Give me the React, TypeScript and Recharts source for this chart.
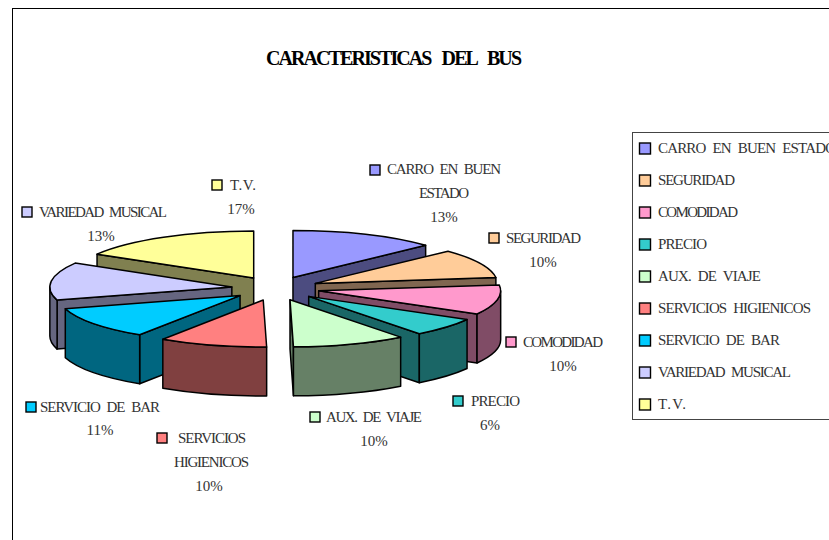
import React from 'react';
import { PieChart, Pie, Legend } from 'recharts';

// slices in clockwise order from 12 o'clock
const NAMES = [
  'CARRO EN BUEN ESTADO',
  'SEGURIDAD',
  'COMODIDAD',
  'PRECIO',
  'AUX. DE VIAJE',
  'SERVICIOS HIGIENICOS',
  'SERVICIO DE BAR',
  'VARIEDAD MUSICAL',
  'T.V.',
];
const VALUES = [13, 10, 10.2, 6.4, 10.1, 9.6, 11.2, 13, 16.5];
const COLORS = ['#9999FF', '#FFCC99', '#FF99CC', '#33CCCC', '#CCFFCC', '#FF8080', '#00CCFF', '#CCCCFF', '#FFFF99'];
const WALLS = ['#4C4C80', '#806650', '#804C66', '#1A6666', '#668066', '#804040', '#006680', '#666680', '#808050'];
const LEGEND_WIDTHS = [178, 77, 80, 49, 103, 153, 122, 133, 28];

// label placement: square x/y, text lines [text, x, y, width], percent centre x/y
const LABEL_POS: Record<string, any> = {
  'CARRO EN BUEN ESTADO': { sq: [370, 170], lines: [['CARRO EN BUEN', 387, 169, 114], ['ESTADO', 419, 193, 50]], pct: [444, 217] },
  SEGURIDAD: { sq: [489, 238], lines: [['SEGURIDAD', 506, 238, 75]], pct: [543, 262] },
  COMODIDAD: { sq: [506, 342], lines: [['COMODIDAD', 523, 342, 80]], pct: [563, 366] },
  PRECIO: { sq: [453, 401], lines: [['PRECIO', 471, 401, 49]], pct: [490, 425] },
  'AUX. DE VIAJE': { sq: [310, 417], lines: [['AUX. DE VIAJE', 326, 417, 96]], pct: [374, 441] },
  'SERVICIOS HIGIENICOS': { sq: [157, 438], lines: [['SERVICIOS', 178, 438, 68], ['HIGIENICOS', 174, 462, 75]], pct: [209, 486] },
  'SERVICIO DE BAR': { sq: [26, 407], lines: [['SERVICIO DE BAR', 40, 407, 120]], pct: [100, 430] },
  'VARIEDAD MUSICAL': { sq: [22, 212], lines: [['VARIEDAD MUSICAL', 39, 212, 128]], pct: [101, 236] },
  'T.V.': { sq: [212, 185], lines: [['T.V.', 230, 185, 26]], pct: [241, 209] },
};

const data = NAMES.map((name, i) => ({ name, value: VALUES[i] }));
const total = VALUES.reduce((a, b) => a + b, 0);
// right half draws back to front clockwise, left half back to front counter-clockwise
const rightData = data.slice(0, 5);
const leftData = data.slice(5).reverse();
const sweep = (rows: typeof data) => (rows.reduce((a, r) => a + r.value, 0) / total) * 360;

const FONT = '"Liberation Serif", serif';
const TILT = 47 / 182;
const DEPTH = 49;
const EXPLODE_X = 44;
const EXPLODE_Y = 12;

const rad = (d: number) => (d * Math.PI) / 180;

const Slice = (props: any) => {
  const { cx, cy, outerRadius, startAngle, endAngle, name } = props;
  let a = 90 - Math.max(startAngle, endAngle);
  let b = 90 - Math.min(startAngle, endAngle);
  if (a < 0) {
    a += 360;
    b += 360;
  }
  const idx = NAMES.indexOf(name);
  const rx = outerRadius;
  const ry = outerRadius * TILT;
  const mid = (a + b) / 2;
  const ox = cx + EXPLODE_X * Math.sin(rad(mid));
  const oy = cy - EXPLODE_Y * Math.cos(rad(mid));
  const px = (t: number) => ox + rx * Math.sin(rad(t));
  const py = (t: number) => oy - ry * Math.cos(rad(t));
  const style = { stroke: '#000', strokeWidth: 1.5, strokeLinejoin: 'round' as const };

  const cutWall = (t: number) => (
    <path
      d={`M${ox},${oy} L${px(t)},${py(t)} L${px(t)},${py(t) + DEPTH} L${ox},${oy + DEPTH} Z`}
      fill={WALLS[idx]}
      {...style}
    />
  );
  const t1 = Math.max(a, 90);
  const t2 = Math.min(b, 270);

  return (
    <g>
      {Math.sin(rad(a)) < 0 && cutWall(a)}
      {Math.sin(rad(b)) > 0 && cutWall(b)}
      {t1 < t2 && (
        <path
          d={`M${px(t1)},${py(t1)} A${rx},${ry} 0 0 1 ${px(t2)},${py(t2)} L${px(t2)},${py(t2) + DEPTH} A${rx},${ry} 0 0 0 ${px(t1)},${py(t1) + DEPTH} Z`}
          fill={WALLS[idx]}
          {...style}
        />
      )}
      <path
        d={`M${ox},${oy} L${px(a)},${py(a)} A${rx},${ry} 0 0 1 ${px(b)},${py(b)} Z`}
        fill={COLORS[idx]}
        {...style}
      />
    </g>
  );
};

const SliceLabel = (props: any) => {
  const { name, value } = props;
  const pos = LABEL_POS[name];
  const idx = NAMES.indexOf(name);
  return (
    <g fontFamily={FONT} fontSize={15} fill="#333">
      <rect x={pos.sq[0]} y={pos.sq[1] - 5} width={10} height={10} fill={COLORS[idx]} stroke="#000" strokeWidth={1.4} />
      {pos.lines.map((l: any) => (
        <text key={l[0]} x={l[1]} y={l[2] + 5} textLength={l[3]} lengthAdjust="spacing" wordSpacing={4} stroke="none">
          {l[0]}
        </text>
      ))}
      <text x={pos.pct[0]} y={pos.pct[1] + 5} textAnchor="middle" stroke="none">
        {Math.round((value / total) * 100)}%
      </text>
    </g>
  );
};

const LegendBox = () => (
  <svg width={205} height={290} style={{ display: 'block' }}>
    <rect x={0.5} y={0.5} width={260} height={287} fill="#fff" stroke="#444" strokeWidth={1} />
    {NAMES.map((name, i) => (
      <g key={name}>
        <rect x={7.5} y={11 + i * 32} width={11} height={11} fill={COLORS[i]} stroke="#000" strokeWidth={1.4} />
        <text
          x={26}
          y={21 + i * 32}
          fontFamily={FONT}
          fontSize={15}
          fill="#333"
          textLength={LEGEND_WIDTHS[i]}
          lengthAdjust="spacing"
          wordSpacing={4}
        >
          {name}
        </text>
      </g>
    ))}
  </svg>
);

const App = () => (
  <div style={{ position: 'absolute', left: 0, top: 0, width: 829, height: 540, overflow: 'hidden', background: '#fff' }}>
    <PieChart width={829} height={540} margin={{ top: 0, right: 0, bottom: 0, left: 0 }}>
      <rect x={12.5} y={8.5} width={900} height={600} fill="#fff" stroke="#000" strokeWidth={1} />
      <text x={394} y={65} textAnchor="middle" fontFamily={FONT} fontSize={20} fontWeight="bold" fill="#000" textLength={256} lengthAdjust="spacing" wordSpacing={8}>
        CARACTERISTICAS DEL BUS
      </text>
      <Pie
        data={leftData}
        dataKey="value"
        nameKey="name"
        cx={275.5}
        cy={288.5}
        outerRadius={182}
        startAngle={90}
        endAngle={90 + sweep(leftData)}
        shape={Slice}
        label={SliceLabel}
        labelLine={false}
        isAnimationActive={false}
      />
      <Pie
        data={rightData}
        dataKey="value"
        nameKey="name"
        cx={275.5}
        cy={288.5}
        outerRadius={182}
        startAngle={90}
        endAngle={90 - sweep(rightData)}
        shape={Slice}
        label={SliceLabel}
        labelLine={false}
        isAnimationActive={false}
      />
      <Legend content={LegendBox} wrapperStyle={{ position: 'absolute', left: 632, top: 132, width: 205, height: 290, bottom: 'auto' }} />
    </PieChart>
  </div>
);

export default App;
